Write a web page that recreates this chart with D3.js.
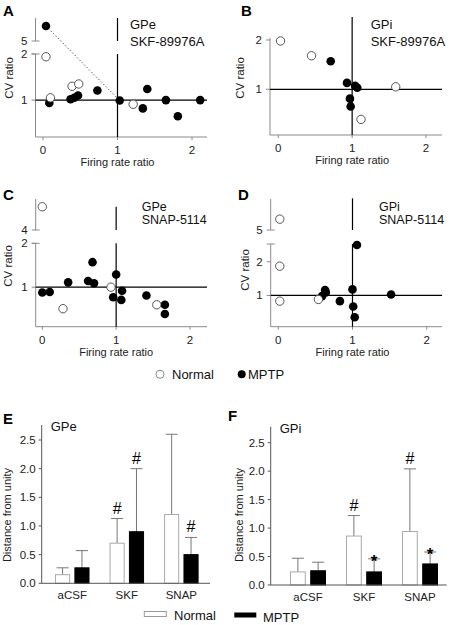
<!DOCTYPE html>
<html><head><meta charset="utf-8">
<script src="https://cdn.jsdelivr.net/npm/d3@7"></script>
<style>body{margin:0;background:#fff} svg{display:block;font-family:"Liberation Sans",Arial,sans-serif}</style>
</head><body><svg id="c" width="451" height="625"></svg>
<script>
// ---------- DATA ----------
// scatter panels: [firing rate ratio, CV ratio]
const A_normal = [[0.04,1.94],[0.10,1.05],[0.39,1.30],[0.48,1.35],[1.21,0.91]];
const A_mptp   = [[0.04,6.3],[0.085,0.94],[0.37,1.02],[0.42,1.05],[0.47,1.10],[0.73,1.21],[1.03,0.99],[1.34,0.82],[1.40,1.24],[1.65,1.00],[1.81,0.65],[2.11,1.00]];
const B_normal = [[0.03,1.98],[0.45,1.68],[1.59,1.05],[1.12,0.39]];
const B_mptp   = [[0.71,1.57],[0.93,1.13],[1.04,1.07],[1.07,1.03],[0.97,0.81],[0.98,0.65]];
const C_normal = [[0.00,5.5],[0.93,1.00],[0.28,0.51],[1.55,0.60]];
const C_mptp   = [[0.00,0.88],[0.10,0.89],[0.35,1.11],[0.62,1.14],[0.68,1.57],[0.70,1.09],[1.00,1.29],[0.96,0.77],[1.08,0.92],[1.07,0.71],[1.41,0.81],[1.66,0.60],[1.66,0.39]];
const D_normal = [[0.02,5.7],[0.02,1.87],[0.02,0.83],[0.54,0.88]];
const D_mptp   = [[1.06,2.50],[0.63,1.16],[0.64,1.09],[0.59,0.98],[0.83,0.83],[1.00,1.18],[1.01,0.67],[1.03,0.35],[1.52,1.03]];
const xTicks = [0,1,2];

// bar panels
const categories = ["aCSF","SKF","SNAP"];
const seriesNames = ["Normal","MPTP"];
const E_normal = [0.15,0.70,1.20], E_normalErr = [0.27,1.13,2.60];
const E_mptp   = [0.27,0.90,0.50], E_mptpErr   = [0.57,2.00,0.80];
const F_normal = [0.23,0.86,0.94], F_normalErr = [0.47,1.22,2.04];
const F_mptp   = [0.25,0.23,0.37], F_mptpErr   = [0.40,0.46,0.58];
const E_marks = [{c:"SKF",s:"Normal",t:"#"},{c:"SKF",s:"MPTP",t:"#"},{c:"SNAP",s:"MPTP",t:"#"}];
const F_marks = [{c:"SKF",s:"Normal",t:"#"},{c:"SNAP",s:"Normal",t:"#"},{c:"SKF",s:"MPTP",t:"*"},{c:"SNAP",s:"MPTP",t:"*"}];
const barTicks = [0,0.5,1.0,1.5,2.0,2.5];

// ---------- DRAW ----------
const svg = d3.select("#c");
const AX = "#8a8a8a";

function scatter(o){
  const g = svg.append("g");
  const x = d3.scaleLinear().domain([0,2]).range(o.xr);
  const yl = d3.scaleLinear().domain(o.ld).range(o.lr);
  const yu = o.ud ? d3.scaleLinear().domain(o.ud).range(o.ur) : null;
  const Y = v => (yu && v >= o.ud[0]) ? yu(v) : yl(v);
  // y axis
  g.append("line").attr("x1",o.ax).attr("x2",o.ax).attr("y1",o.lr[0]).attr("y2",o.lr[1]).attr("stroke",AX);
  if (yu){
    g.append("line").attr("x1",o.ax).attr("x2",o.ax).attr("y1",o.ur[0]).attr("y2",o.ur[1]).attr("stroke",AX);
    [o.lr[1],o.ur[0]].forEach(yy=>g.append("line").attr("x1",o.ax-4).attr("x2",o.ax+4).attr("y1",yy).attr("y2",yy).attr("stroke",AX));
  }
  o.lt.forEach(t=>{
    g.append("line").attr("x1",o.ax-4).attr("x2",o.ax).attr("y1",yl(t)).attr("y2",yl(t)).attr("stroke",AX);
    g.append("text").attr("x",o.ax-8).attr("y",yl(t)+4).attr("text-anchor","end").attr("font-size",11.5).attr("fill","#222").text(t);
  });
  if (yu) g.append("text").attr("x",o.ax-8).attr("y",o.ur[0]+4).attr("text-anchor","end").attr("font-size",11.5).attr("fill","#222").text(o.ud[0]);
  // x axis
  g.append("line").attr("x1",o.ax).attr("x2",o.right).attr("y1",o.lr[0]).attr("y2",o.lr[0]).attr("stroke",AX);
  xTicks.forEach(t=>{
    g.append("line").attr("x1",x(t)).attr("x2",x(t)).attr("y1",o.lr[0]).attr("y2",o.lr[0]+3).attr("stroke",AX);
    g.append("text").attr("x",x(t)).attr("y",o.lr[0]+17).attr("text-anchor","middle").attr("font-size",11.5).attr("fill","#222").text(t);
  });
  g.append("text").attr("x",(o.xr[0]+o.xr[1])/2).attr("y",o.lr[0]+29).attr("text-anchor","middle").attr("font-size",11).attr("fill","#222").text("Firing rate ratio");
  g.append("text").attr("transform",`translate(${o.ax-o.yoff},${o.ylab}) rotate(-90)`).attr("text-anchor","middle").attr("font-size",11.5).attr("fill","#222").text("CV ratio");
  // reference lines
  g.append("line").attr("x1",o.ax).attr("x2",o.right).attr("y1",yl(1)).attr("y2",yl(1)).attr("stroke","#000").attr("stroke-width",1.2);
  if (yu){
    g.append("line").attr("x1",x(1)).attr("x2",x(1)).attr("y1",o.vtop).attr("y2",o.ur[0]).attr("stroke","#000").attr("stroke-width",1.2);
    g.append("line").attr("x1",x(1)).attr("x2",x(1)).attr("y1",o.lr[1]).attr("y2",o.lr[0]).attr("stroke","#000").attr("stroke-width",1.2);
  } else {
    g.append("line").attr("x1",x(1)).attr("x2",x(1)).attr("y1",o.vtop).attr("y2",o.lr[0]).attr("stroke","#000").attr("stroke-width",1.2);
  }
  if (o.dotted){
    const [p,q] = o.dotted;
    g.append("line").attr("x1",x(p[0])).attr("y1",Y(p[1])).attr("x2",x(q[0])).attr("y2",Y(q[1])).attr("stroke","#333").attr("stroke-dasharray","1.2,2.2");
  }
  // points
  g.selectAll(".m").data(o.mptp).join("circle").attr("cx",d=>x(d[0])).attr("cy",d=>Y(d[1])).attr("r",4.3).attr("fill","#000");
  g.selectAll(".n").data(o.normal).join("circle").attr("cx",d=>x(d[0])).attr("cy",d=>Y(d[1])).attr("r",4.2).attr("fill","#fff").attr("stroke","#444").attr("stroke-width",0.9);
  // labels
  g.append("text").attr("x",o.tx).attr("y",o.ty1).attr("font-size",o.tfs).attr("fill","#111").text(o.t1);
  g.append("text").attr("x",o.tx).attr("y",o.ty2).attr("font-size",o.tfs).attr("fill","#111").text(o.t2);
  g.append("text").attr("x",o.lx).attr("y",o.ly).attr("font-size",15).attr("font-weight","bold").text(o.letter);
}

scatter({letter:"A",lx:3,ly:16,xr:[43,192],ax:35.5,right:207,ld:[0.2,2],lr:[137,54],ud:[5,7],ur:[41,18],vtop:18,lt:[1,2],
  normal:A_normal,mptp:A_mptp,dotted:[A_mptp[0],A_mptp[6]],tx:130,ty1:29,ty2:46,tfs:13,t1:"GPe",t2:"SKF-89976A",ylab:78,yoff:23});
scatter({letter:"B",lx:241,ly:16,xr:[278.3,426],ax:270,right:442,ld:[0.073,2.04],lr:[135,38],vtop:17,lt:[1,2],
  normal:B_normal,mptp:B_mptp,tx:370.7,ty1:29,ty2:46,tfs:13,t1:"GPi",t2:"SKF-89976A",ylab:78,yoff:26});
scatter({letter:"C",lx:3,ly:200,xr:[42.3,190],ax:35.7,right:207,ld:[0.1,2],lr:[326.7,243.3],ud:[4,6],ur:[230,199],vtop:206.7,lt:[1,2],
  normal:C_normal,mptp:C_mptp,tx:141.7,ty1:211,ty2:224,tfs:12.5,t1:"GPe",t2:"SNAP-5114",ylab:266,yoff:23.5});
scatter({letter:"D",lx:238,ly:200,xr:[278.3,426.7],ax:270.7,right:442,ld:[0.07,2.53],lr:[326.7,244],ud:[5,7],ur:[230,199],vtop:198.3,lt:[1,2],
  normal:D_normal,mptp:D_mptp,tx:379,ty1:211,ty2:224,tfs:12.5,t1:"GPi",t2:"SNAP-5114",ylab:270,yoff:22});

// scatter legend
svg.append("circle").attr("cx",160).attr("cy",374.3).attr("r",4).attr("fill","#fff").attr("stroke","#888");
svg.append("text").attr("x",172).attr("y",379).attr("font-size",13).attr("fill","#111").text("Normal");
svg.append("circle").attr("cx",241.7).attr("cy",374.3).attr("r",4).attr("fill","#000");
svg.append("text").attr("x",248).attr("y",379).attr("font-size",13).attr("fill","#111").text("MPTP");

function bars(o){
  const g = svg.append("g");
  const y = d3.scaleLinear().domain([0,2.5]).range([o.y0,o.y25]);
  const x0 = d3.scaleBand().domain(categories).range(o.band).paddingInner(0).paddingOuter(0);
  const x1 = d3.scaleBand().domain(seriesNames).range([0,o.gw]).paddingInner(0.22).paddingOuter(0);
  const cx = (c,s) => x0(c) + x0.bandwidth()/2 - o.gw/2 + x1(s);
  const rows = [];
  categories.forEach((c,i)=>{
    rows.push({c,s:"Normal",v:o.n[i],e:o.ne[i]});
    rows.push({c,s:"MPTP",v:o.m[i],e:o.me[i]});
  });
  // error bars
  rows.forEach(r=>{
    const xc = cx(r.c,r.s)+x1.bandwidth()/2;
    g.append("line").attr("x1",xc).attr("x2",xc).attr("y1",y(r.v)).attr("y2",y(r.e)).attr("stroke","#777");
    g.append("line").attr("x1",xc-6).attr("x2",xc+6).attr("y1",y(r.e)).attr("y2",y(r.e)).attr("stroke","#777");
  });
  g.selectAll("rect").data(rows).join("rect")
    .attr("x",d=>cx(d.c,d.s)+0.5).attr("width",x1.bandwidth()-1)
    .attr("y",d=>y(d.v)).attr("height",d=>o.y0-y(d.v))
    .attr("fill",d=>d.s==="Normal"?"#fff":"#000").attr("stroke",d=>d.s==="Normal"?"#aaa":"#000");
  // marks
  o.marks.forEach(mk=>{
    const r = rows.find(q=>q.c===mk.c&&q.s===mk.s);
    const xc = cx(r.c,r.s)+x1.bandwidth()/2;
    g.append("text").attr("x",xc).attr("y",y(r.e)+(mk.t==="#"?-5:8)).attr("text-anchor","middle")
      .attr("font-size",mk.t==="#"?16:17).attr("font-weight",mk.t==="#"?"normal":"bold").attr("fill","#000").text(mk.t);
  });
  // axes
  g.append("line").attr("x1",o.ax).attr("x2",o.ax).attr("y1",o.y0).attr("y2",o.top).attr("stroke","#555");
  g.append("line").attr("x1",o.ax).attr("x2",o.right).attr("y1",o.y0).attr("y2",o.y0).attr("stroke","#555");
  barTicks.forEach(t=>{
    g.append("line").attr("x1",o.ax-3).attr("x2",o.ax).attr("y1",y(t)).attr("y2",y(t)).attr("stroke","#555");
    g.append("text").attr("x",o.ax-6).attr("y",y(t)+4).attr("text-anchor","end").attr("font-size",11.5).attr("fill","#222").text(d3.format(".1f")(t));
  });
  categories.forEach(c=>{
    g.append("text").attr("x",x0(c)+x0.bandwidth()/2).attr("y",o.y0+16).attr("text-anchor","middle").attr("font-size",11.5).attr("fill","#222").text(c);
  });
  g.append("text").attr("transform",`translate(${o.ax-o.yoff},${o.ylab}) rotate(-90)`).attr("text-anchor","middle").attr("font-size",11).attr("fill","#222").text("Distance from unity");
  g.append("text").attr("x",o.ax+9).attr("y",o.top+6).attr("font-size",13).attr("fill","#111").text(o.title);
  g.append("text").attr("x",o.lx).attr("y",o.ly).attr("font-size",15).attr("font-weight","bold").text(o.letter);
}

bars({letter:"E",lx:3,ly:424,ax:41.7,right:210,y0:583.3,y25:440,top:425,band:[45,208.6],gw:34.5,
  n:E_normal,ne:E_normalErr,m:E_mptp,me:E_mptpErr,marks:E_marks,title:"GPe",ylab:515,yoff:30.5});
bars({letter:"F",lx:228,ly:421,ax:270.7,right:446.7,y0:585,y25:442.7,top:426.7,band:[280,448],gw:36,
  n:F_normal,ne:F_normalErr,m:F_mptp,me:F_mptpErr,marks:F_marks,title:"GPi",ylab:515,yoff:28});

// bar legend
svg.append("rect").attr("x",144.3).attr("y",611.5).attr("width",22).attr("height",5).attr("fill","#fff").attr("stroke","#999");
svg.append("text").attr("x",174).attr("y",619.5).attr("font-size",13).attr("fill","#111").text("Normal");
svg.append("rect").attr("x",234.3).attr("y",612.5).attr("width",22).attr("height",5).attr("fill","#000");
svg.append("text").attr("x",263).attr("y",622).attr("font-size",13).attr("fill","#111").text("MPTP");
</script></body></html>
